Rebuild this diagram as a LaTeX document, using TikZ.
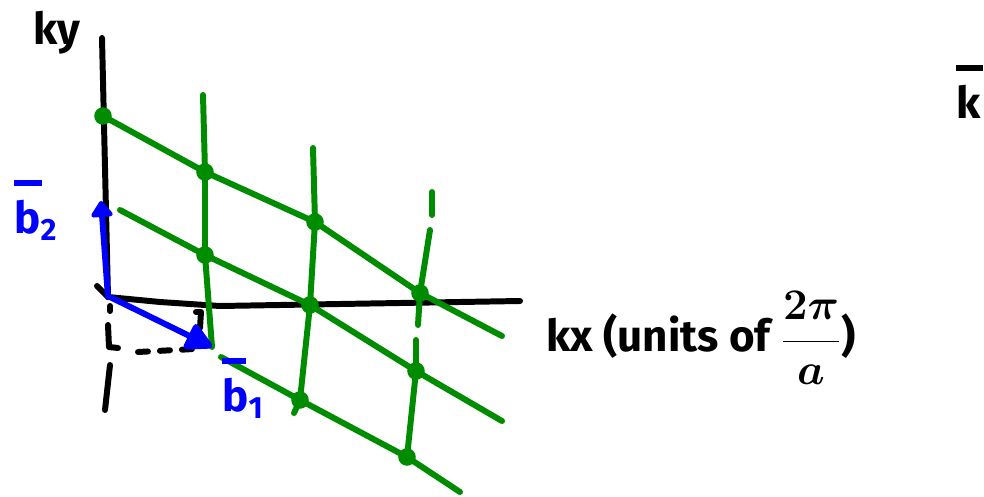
\documentclass[tikz,border=0pt]{standalone}
\usepackage{fontspec}
\setmainfont{Fira Sans}
\usetikzlibrary{arrows.meta}
\definecolor{latgreen}{RGB}{0,140,0}
\definecolor{vecblue}{RGB}{0,0,255}

\begin{document}
\begin{tikzpicture}[x=0.02cm,y=-0.02cm,>=Stealth,
 pen/.style={line width=3.4pt,line cap=round,line join=round},
 lat/.style={pen,latgreen},
 vec/.style={pen,vecblue},
 site/.style={circle,fill=latgreen,inner sep=0pt,minimum size=10pt},
 lbl/.style={font=\bfseries\boldmath\fontsize{25}{27}\selectfont,inner sep=0pt},
 barlbl/.style={lbl,align=left,anchor=north west}]
\clip (0,0) rectangle (984,497);
% reciprocal lattice points
\coordinate (a0) at (103,116); \coordinate (a1) at (205,172);
\coordinate (a2) at (315,222); \coordinate (a3) at (420,293);
\coordinate (a4) at (502,336);
\coordinate (b0) at (120,210); \coordinate (b1) at (205,255);
\coordinate (b2) at (310,305); \coordinate (b3) at (416,371);
\coordinate (b4) at (502,421);
\coordinate (c0) at (221,357); \coordinate (c2) at (300,400);
\coordinate (c3) at (407,457); \coordinate (c4) at (460,492);
\coordinate (O) at (108,297);
\coordinate (b1tip) at (212,347); \coordinate (b2tip) at (101,201);
% axes
\draw[pen] (102,38) -- (O);
\draw[pen] (97,286) -- (O) -- (160,302) -- (220,306) -- (520,301);
\draw[pen] (110,306) -- (110,311);
\draw[pen] (108,325) -- (109,347) -- (118,348);
\draw[pen] (110,365) -- (105,410);
\draw[pen,dash pattern=on 0.2cm off 0.24cm] (138,352) -- (194,349);
\draw[pen] (196,312) -- (201,312) -- (200,328);
% lattice rows and columns
\draw[lat] (a0) -- (a1) -- (a2) -- (a3) -- (a4);
\draw[lat] (b0) -- (b1) -- (b2) -- (b3) -- (b4);
\draw[lat] (c0) -- (c2) -- (c3) -- (c4);
\draw[lat] (203,95) -- (a1) -- (b1) -- (b1tip);
\draw[lat] (313,148) -- (a2) -- (b2) -- (c2) -- (294,413);
\draw[lat] (432,192) -- (432,215);
\draw[lat] (430,230) -- (a3) -- (418,325);
\draw[lat] (416,340) -- (b3) -- (c3) -- (406,462);
\foreach \p in {a0,a1,a2,a3,b1,b2,b3,c2,c3}
  \node[site] at (\p) {};
% basis vectors
\draw[vec,-{Triangle[round,length=10pt,width=14pt]}] (O) -- (b2tip);
\draw[vec,-{Triangle[round,length=17pt,width=17pt]}] (112,298) -- (b1tip);
% labels
\node[lbl] (kylbl) at (57,33) {ky};
\node[lbl,anchor=west] (kxlbl) at (546,338) {kx (units of $\displaystyle\frac{2\pi}{a}$)};
\node[barlbl,vecblue] (b2lbl) at (14,180) {\rule{0.56cm}{3.4pt}\\b\textsubscript{2}};
\node[barlbl,vecblue] (b1lbl) at (222,358) {\rule{0.48cm}{3.4pt}\\b\textsubscript{1}};
\node[barlbl] (klbl) at (956,65) {\rule{0.54cm}{3.4pt}\\k};
\end{tikzpicture}
\end{document}
